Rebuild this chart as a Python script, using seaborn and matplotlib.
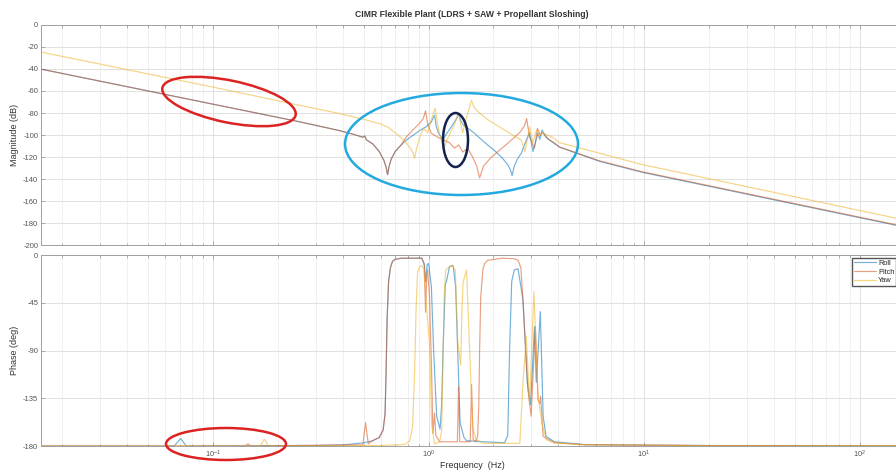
# Bode plot of the CIMR flexible plant (Roll / Pitch / Yaw), MATLAB-like look
import pandas as pd
import matplotlib
matplotlib.use("Agg")
import matplotlib.pyplot as plt
import seaborn as sns
from matplotlib.patches import Ellipse
from matplotlib.ticker import LogLocator, NullFormatter, MultipleLocator

# --- magnitude data (Hz, dB) ---
roll_mag_f = [0.0158, 0.1, 0.252, 0.386, 0.45, 0.495, 0.505, 0.515, 0.55, 0.59, 0.62, 0.635,
              0.645, 0.655, 0.67, 0.70, 0.75, 0.79, 0.85, 0.908, 0.976, 1.03, 1.066, 1.085,
              1.11, 1.166, 1.2, 1.25, 1.3, 1.35, 1.38, 1.41, 1.45, 1.55, 1.634, 1.8, 2.02,
              2.2, 2.33, 2.4, 2.44, 2.5, 2.6, 2.69, 2.84, 2.94, 3.05, 3.22, 3.28, 3.36, 3.5,
              3.84, 4.05, 6.22, 9.84, 146.9, 159]
roll_mag_db = [-40, -72, -88, -96, -99.5, -102, -101, -104.5, -108, -115, -123, -129,
               -136, -129, -122, -115, -108.5, -104.5, -100, -96, -92.4, -88, -82, -92,
               -98, -104.5, -100, -95, -90, -85, -80, -87, -91, -95, -98.5, -106, -114,
               -121, -127, -132, -137, -128, -121, -116.7, -104.5, -98, -115, -98, -104, -95.5, -102,
               -108, -111, -124, -134, -182, -183.4]

pitch_mag_f = [0.0158, 0.1, 0.252, 0.386, 0.45, 0.495, 0.505, 0.515, 0.55, 0.59, 0.62, 0.635,
               0.645, 0.655, 0.67, 0.70, 0.75, 0.79, 0.85, 0.908, 0.945, 0.968, 0.99, 1.03,
               1.125, 1.25, 1.32, 1.38, 1.44, 1.52, 1.6, 1.67, 1.725, 1.8, 1.96, 2.33, 2.64,
               2.78, 2.85, 2.94, 3.1, 3.2, 3.3, 3.4, 3.6, 3.84, 4.05, 6.22, 9.84, 146.9, 159]
pitch_mag_db = [-40, -72, -88, -96, -99.5, -102, -101, -104.5, -108, -115, -123, -129,
                -136, -129, -122, -115, -108.5, -101.5, -95, -89.4, -85, -78, -90, -98.5,
                -103, -107, -112, -109, -115.5, -112, -120, -128, -139, -128, -120, -107.5, -98,
                -92, -85, -102, -112, -94, -100, -98, -104, -107, -111, -123.5, -133.5, -181.5, -183]

yaw_mag_f = [0.0158, 0.1, 0.252, 0.386, 0.505, 0.6, 0.65, 0.71, 0.76, 0.817, 0.845, 0.861,
             0.88, 0.91, 0.948, 0.97, 0.99, 1.03, 1.072, 1.1, 1.13, 1.16, 1.186, 1.22, 1.3,
             1.378, 1.41, 1.438, 1.5, 1.58, 1.63, 1.7, 1.88, 2.25, 2.5, 2.69, 2.8, 2.9, 2.94,
             3.04, 3.17, 3.25, 3.36, 3.76, 4.05, 6.22, 9.84, 146.9, 159]
yaw_mag_db = [-24.5, -56.5, -73, -80.5, -86, -90, -93, -99, -104, -111, -116, -121,
              -112, -102, -94, -96, -98, -86, -75.5, -90, -101, -107, -110.6, -104, -93,
              -80, -90, -98, -84, -68.5, -75, -79, -86, -95.5, -101, -104.5, -115, -100, -92.7,
              -107, -95.5, -101, -98, -102, -107, -116.6, -127, -175.5, -177]

# --- phase data (Hz, deg) ---
roll_ph_f = [0.0158, 0.066, 0.0707, 0.075, 0.3, 0.4, 0.5, 0.55, 0.59, 0.615, 0.628, 0.635,
             0.642, 0.652, 0.665, 0.68, 0.70, 0.75, 0.93, 0.955, 0.968, 0.985, 1.0, 1.03,
             1.055, 1.09, 1.13, 1.15, 1.167, 1.195, 1.21, 1.25, 1.3, 1.335, 1.364, 1.4, 1.46,
             1.5, 1.8, 2.25, 2.33, 2.376, 2.43, 2.5, 2.6, 2.74, 2.87, 2.973, 3.1, 3.16, 3.3,
             3.4, 3.51, 3.84, 5.3, 20, 159]
roll_ph_deg = [-180, -180, -173, -180, -179.5, -179, -177, -175, -172, -165, -150, -110,
               -60, -25, -12, -6, -4, -3, -3, -8, -25, -9, -8, -30,
               -89.5, -152, -164, -140, -89.5, -28, -25, -11, -10, -30, -89.5, -158, -172,
               -175, -176, -177, -170, -89.5, -25, -14, -13, -42, -120, -141, -67.5, -120, -53.4,
               -152, -171, -176, -178.7, -179.6, -179.8]

pitch_ph_f = [0.0158, 0.14, 0.145, 0.15, 0.4, 0.495, 0.51, 0.525, 0.55, 0.59, 0.615, 0.628,
              0.635, 0.642, 0.652, 0.665, 0.68, 0.70, 0.75, 0.93, 0.955, 0.968, 0.98, 0.99,
              1.01, 1.033, 1.047, 1.066, 1.08, 1.125, 1.36, 1.378, 1.395, 1.56, 1.583, 1.61,
              1.66, 1.69, 1.71, 1.725, 1.745, 1.785, 1.82, 1.88, 2.2, 2.5, 2.6, 2.68, 2.74,
              2.89, 2.99, 3.13, 3.22, 3.28, 3.31, 3.4, 3.84, 5.3, 20, 159]
pitch_ph_deg = [-180, -180, -178, -180, -179, -179, -158, -178, -175, -172, -165, -150,
                -110, -60, -25, -12, -6, -4, -3, -3, -10, -54, -20, -14,
                -40, -111, -168, -149, -170, -176, -176, -124, -176, -176, -122, -174,
                -176, -170, -140, -89.5, -40, -14, -8, -5, -3, -3.5, -5, -12, -42,
                -127, -152, -67.5, -136.6, -140, -133, -171, -177, -178.8, -179.6, -179.8]

yaw_ph_f = [0.0158, 0.165, 0.173, 0.181, 0.6, 0.78, 0.817, 0.843, 0.861, 0.875, 0.889,
            0.91, 0.928, 0.95, 0.979, 1.011, 1.033, 1.066, 1.125, 1.15, 1.165, 1.18, 1.2,
            1.28, 1.33, 1.364, 1.408, 1.425, 1.445, 1.5, 1.55, 1.6, 1.66, 1.8, 2.65, 2.74,
            2.84, 2.94, 3.08, 3.22, 3.36, 3.51, 3.84, 5.3, 20, 159]
yaw_ph_deg = [-180, -180, -173.6, -180, -179.5, -178.5, -175, -162, -110, -50, -16,
              -11, -10, -13, -50, -85, -160, -178, -176, -165, -105, -40, -14,
              -9.5, -14, -80, -104, -60, -26, -14, -89.5, -162, -174, -177.5, -177.5, -121,
              -77, -140, -34.5, -133.5, -158.6, -174, -177, -178.8, -179.6, -179.8]

series = ["Roll", "Pitch", "Yaw"]
colors = ["#0072BD", "#D95319", "#EDB120"]


def long_frame(parts, value_name):
    rows = []
    for name, f, v in parts:
        rows.append(pd.DataFrame({"freq": f, value_name: v, "axis": name}))
    return pd.concat(rows, ignore_index=True)


mag_df = long_frame([("Roll", roll_mag_f, roll_mag_db),
                     ("Pitch", pitch_mag_f, pitch_mag_db),
                     ("Yaw", yaw_mag_f, yaw_mag_db)], "mag")
ph_df = long_frame([("Roll", roll_ph_f, roll_ph_deg),
                    ("Pitch", pitch_ph_f, pitch_ph_deg),
                    ("Yaw", yaw_ph_f, yaw_ph_deg)], "phase")

sns.set_theme(style="whitegrid")
plt.rcParams["font.family"] = ["Liberation Sans", "DejaVu Sans"]
plt.rcParams["axes.unicode_minus"] = False

W, H = 896, 473
fig = plt.figure(figsize=(W / 100, H / 100), dpi=100)
left, right = 41 / W, 903 / W
ax_mag = fig.add_axes([left, 1 - 245 / H, right - left, 220 / H])
ax_ph = fig.add_axes([left, 1 - 446 / H, right - left, 191 / H])

sns.lineplot(data=mag_df, x="freq", y="mag", hue="axis", hue_order=series,
             palette=colors, estimator=None, sort=False, lw=0.85, alpha=0.55,
             legend=False, ax=ax_mag)
sns.lineplot(data=ph_df, x="freq", y="phase", hue="axis", hue_order=series,
             palette=colors, estimator=None, sort=False, lw=0.85, alpha=0.55,
             ax=ax_ph)

for ax in (ax_mag, ax_ph):
    ax.set_xscale("log")
    ax.set_xlim(0.0159, 159)
    ax.xaxis.set_major_locator(LogLocator(base=10))
    ax.xaxis.set_minor_locator(LogLocator(base=10, subs=range(2, 10)))
    ax.xaxis.set_minor_formatter(NullFormatter())
    ax.grid(True, which="major", color="#dcdcdc", lw=0.6)
    ax.grid(True, which="minor", axis="x", color="#ececec", lw=0.5)
    ax.tick_params(which="both", direction="in", top=True, right=True, bottom=True, left=True,
                   color="#909090", labelsize=5.5, labelcolor="#555555", pad=2)
    ax.tick_params(which="major", length=3, width=0.5)
    ax.tick_params(which="minor", length=1.8, width=0.5)
    for s in ax.spines.values():
        s.set_color("#a0a0a0")
        s.set_linewidth(0.7)

ax_mag.set_ylim(-200, 0)
ax_mag.yaxis.set_major_locator(MultipleLocator(20))
ax_mag.set_xticklabels([])
ax_mag.set_xlabel("")
ax_mag.set_ylabel("Magnitude (dB)", fontsize=6.5, color="#333333", labelpad=3)
ax_mag.set_title("CIMR Flexible Plant (LDRS + SAW + Propellant Sloshing)",
                 fontsize=6.2, fontweight="bold", color="#333333", pad=6)

ax_ph.set_ylim(-180, 0)
ax_ph.yaxis.set_major_locator(MultipleLocator(45))
ax_ph.set_ylabel("Phase (deg)", fontsize=6.5, color="#333333", labelpad=3)
ax_ph.set_xlabel("Frequency  (Hz)", fontsize=6.5, color="#333333", labelpad=1)
ax_ph.legend(loc="upper left", bbox_to_anchor=(852 / W, 1 - 258 / H),
             bbox_transform=fig.transFigure, fontsize=5.3, frameon=True, fancybox=False,
             edgecolor="#555555", framealpha=1, borderpad=0.25, handlelength=3.0,
             labelspacing=0.2, borderaxespad=0, handletextpad=0.3)

# highlight ellipses drawn over the figure (pixel units)
ax_ov = fig.add_axes([0, 0, 1, 1], zorder=5)
ax_ov.set_xlim(0, W)
ax_ov.set_ylim(H, 0)
ax_ov.axis("off")
marks = [((229, 101.5), 136, 42, 11.6, "#dd2222"),
         ((461.5, 144), 233, 102, 0, "#22aae0"),
         ((455.5, 140), 25, 54, 0, "#15224d"),
         ((226, 444), 120, 32, 0, "#dd2222")]
for (cx, cy), w, h, ang, c in marks:
    ax_ov.add_patch(Ellipse((cx, cy), w, h, angle=ang, fill=False, edgecolor=c, lw=1.8))

fig.savefig("out.png", dpi=100)
